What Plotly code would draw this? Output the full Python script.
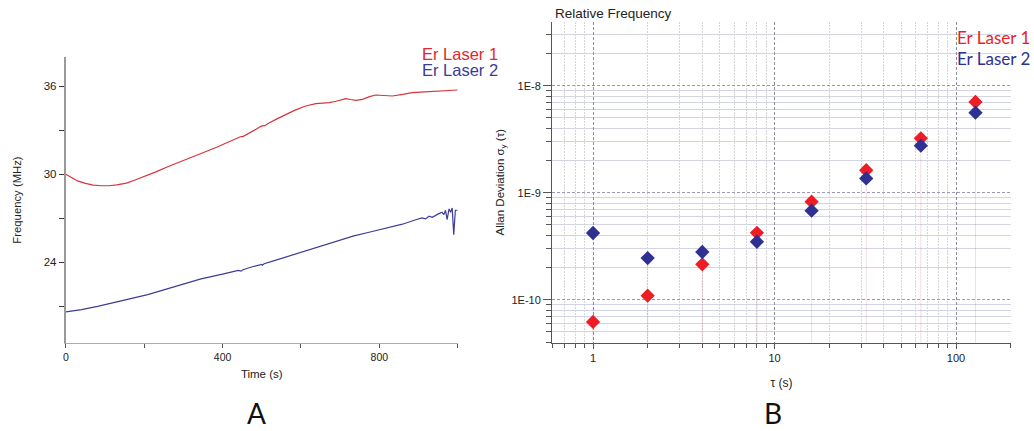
import plotly.graph_objects as go
import math

# ---------------- Panel A data ----------------
t_red = [0, 15, 30, 50, 70, 90, 110, 130, 155, 175, 200, 230, 260, 290, 320, 353, 385, 415,
         447, 452, 458, 476, 500, 508, 515, 540, 561, 585, 612, 625, 638, 655, 672, 690, 714,
         727, 740, 757, 775, 791, 810, 833, 860, 884, 905, 927, 960, 1000]
f_red = [30.0, 29.75, 29.55, 29.38, 29.27, 29.22, 29.22, 29.28, 29.4, 29.6, 29.85, 30.17, 30.52,
         30.84, 31.14, 31.48, 31.85, 32.2, 32.58, 32.57, 32.66, 32.98, 33.3, 33.32, 33.45, 33.8,
         34.09, 34.38, 34.66, 34.76, 34.82, 34.86, 34.89, 34.98, 35.16, 35.1, 35.05, 35.11,
         35.3, 35.41, 35.38, 35.34, 35.45, 35.57, 35.61, 35.64, 35.68, 35.75]

t_blue = [0, 40, 81, 120, 160, 209, 250, 300, 345, 400, 440, 447, 452, 476, 500, 502, 506, 530,
          560, 600, 646, 700, 735, 774, 800, 830, 859, 893, 900, 909, 918, 927, 935, 944, 952,
          960, 965, 969, 973, 978, 982, 986, 990, 994, 1000]
f_blue = [20.62, 20.78, 21.0, 21.25, 21.48, 21.8, 22.12, 22.5, 22.87, 23.2, 23.45, 23.4, 23.5,
          23.7, 23.86, 23.81, 23.9, 24.1, 24.35, 24.7, 25.08, 25.5, 25.8, 26.05, 26.23, 26.4,
          26.6, 26.9, 26.95, 27.03, 26.96, 27.14, 27.07, 27.23, 27.32, 27.41, 27.25, 27.55,
          26.91, 27.64, 27.41, 27.7, 25.89, 27.55, 27.55]

# ---------------- Panel B data ----------------
tau = [1, 2, 4, 8, 16, 32, 64, 128]
adev_laser1 = [6.2e-11, 1.09e-10, 2.14e-10, 4.22e-10, 8.24e-10, 1.62e-9, 3.22e-9, 7.05e-9]
adev_laser2 = [4.2e-10, 2.45e-10, 2.79e-10, 3.48e-10, 6.79e-10, 1.36e-9, 2.75e-9, 5.6e-9]

x_major = [1, 10, 100]
x_major_text = ["1", "10", "100"]
y_major = [1e-10, 1e-9, 1e-8]
y_major_text = ["1E-10", "1E-9", "1E-8"]

RED_A = "#d8343c"
BLUE_A = "#3d3d94"
RED_B = "#ee1c25"
BLUE_B = "#2e3192"

YB_RANGE = [-10.402, -7.402]
XB_RANGE = [math.log10(0.595), math.log10(201)]

fig = go.Figure()

fig.add_trace(go.Scatter(x=t_red, y=f_red, mode="lines", line=dict(color=RED_A, width=1.2),
                         name="Er Laser 1", xaxis="x", yaxis="y", showlegend=False))
fig.add_trace(go.Scatter(x=t_blue, y=f_blue, mode="lines", line=dict(color=BLUE_A, width=1.2),
                         name="Er Laser 2", xaxis="x", yaxis="y", showlegend=False))

# faint drop lines under Allan deviation points
ybot = 10 ** YB_RANGE[0]
for tv, v in zip(tau, adev_laser1):
    fig.add_trace(go.Scatter(x=[tv, tv], y=[v, ybot], mode="lines",
                             line=dict(color="rgba(238,28,37,0.08)", width=1),
                             xaxis="x2", yaxis="y2", showlegend=False, hoverinfo="skip"))
for tv, v in zip(tau, adev_laser2):
    fig.add_trace(go.Scatter(x=[tv, tv], y=[v, ybot], mode="lines",
                             line=dict(color="rgba(46,49,146,0.08)", width=1),
                             xaxis="x2", yaxis="y2", showlegend=False, hoverinfo="skip"))

fig.add_trace(go.Scatter(x=tau, y=adev_laser1, mode="markers",
                         marker=dict(symbol="diamond", size=11, color=RED_B),
                         name="Er Laser 1", xaxis="x2", yaxis="y2", showlegend=False))
fig.add_trace(go.Scatter(x=tau, y=adev_laser2, mode="markers",
                         marker=dict(symbol="diamond", size=11, color=BLUE_B),
                         name="Er Laser 2", xaxis="x2", yaxis="y2", showlegend=False))

FONT = "Liberation Sans, Arial, sans-serif"
MYRIAD = "Lato, Open Sans, sans-serif"

x_minor = [d * m for m in (0.1, 1, 10) for d in range(2, 10)] + [200]
x_minor = [v for v in x_minor if 0.59 < v < 202 and v not in x_major]
y_minor = [d * m for m in (1e-11, 1e-10, 1e-9, 1e-8) for d in range(2, 10)]
y_minor = [v for v in y_minor if 10 ** YB_RANGE[0] < v < 10 ** YB_RANGE[1]]

fig.update_layout(
    width=1034, height=431,
    margin=dict(l=0, r=0, t=0, b=0),
    paper_bgcolor="white", plot_bgcolor="rgba(0,0,0,0)",
    font=dict(family=FONT, size=11, color="#222"),
    xaxis=dict(domain=[63 / 1034, 456 / 1034], range=[0, 1000], anchor="y",
               showgrid=False, zeroline=False, showline=True, linecolor="#b8a8a8", linewidth=1,
               tickmode="linear", tick0=0, dtick=400, ticks="outside", ticklen=4,
               tickcolor="#555", tickfont=dict(size=10.5),
               minor=dict(ticks="outside", dtick=200, tick0=0, ticklen=4, tickcolor="#555"),
               title=dict(text="Time (s)", font=dict(size=11.5), standoff=8)),
    yaxis=dict(domain=[(431 - 343) / 431, (431 - 57) / 431], range=[18.5, 38], anchor="x",
               showgrid=False, zeroline=False, showline=True, linecolor="#999", linewidth=2,
               tickmode="linear", tick0=0, dtick=6, ticks="outside", ticklen=5,
               tickcolor="#333", tickfont=dict(size=11.5),
               minor=dict(ticks="outside", dtick=3, tick0=0, ticklen=5, tickcolor="#333"),
               title=dict(text="Frequency (MHz)", font=dict(size=11.3), standoff=20)),
    xaxis2=dict(domain=[550.7 / 1034, 1011 / 1034], type="log", range=XB_RANGE, anchor="y2",
                showline=True, linecolor="#555", linewidth=1.2, zeroline=False,
                tickmode="array", tickvals=x_major, ticktext=x_major_text,
                ticks="outside", ticklen=5, tickcolor="#555", tickfont=dict(size=11),
                showgrid=True, gridcolor="#8e8e9a", griddash="3px,2px", gridwidth=1,
                minor=dict(tickmode="array", tickvals=x_minor, ticks="outside", ticklen=4,
                           tickcolor="#555", showgrid=True, gridcolor="#d6d6d6",
                           griddash="2px,1px", gridwidth=1),
                title=dict(text="τ (s)", font=dict(size=12), standoff=15)),
    yaxis2=dict(domain=[(431 - 342.7) / 431, (431 - 21.7) / 431], type="log", range=YB_RANGE,
                anchor="x2", showline=True, linecolor="#555", linewidth=1.2, zeroline=False,
                tickmode="array", tickvals=y_major, ticktext=y_major_text,
                ticks="outside", ticklen=8, tickcolor="#555", tickfont=dict(size=11),
                showgrid=True, gridcolor="#9a9ab4", griddash="3px,2px", gridwidth=1,
                minor=dict(tickmode="array", tickvals=y_minor, ticks="outside", ticklen=5,
                           tickcolor="#555", showgrid=True, gridcolor="#d4d5e4",
                           griddash="solid", gridwidth=1.2),
                title=dict(text="Allan Deviation σ<sub>y</sub> (τ)", font=dict(size=11.5),
                           standoff=4)),
    annotations=[
        dict(text="Er Laser 1", x=498 / 1034, y=1 - 54 / 431, xref="paper", yref="paper",
             xanchor="right", yanchor="middle", showarrow=False,
             font=dict(family=FONT, size=16.5, color="#e5262e")),
        dict(text="Er Laser 2", x=498 / 1034, y=1 - 70 / 431, xref="paper", yref="paper",
             xanchor="right", yanchor="middle", showarrow=False,
             font=dict(family=FONT, size=16.5, color="#3b3b98")),
        dict(text="Er Laser 1", x=955 / 1034, y=1 - 37 / 431, xref="paper", yref="paper",
             xanchor="left", yanchor="middle", showarrow=False,
             font=dict(family=MYRIAD, size=17, color=RED_B)),
        dict(text="Er Laser 2", x=955 / 1034, y=1 - 58 / 431, xref="paper", yref="paper",
             xanchor="left", yanchor="middle", showarrow=False,
             font=dict(family=MYRIAD, size=17, color=BLUE_B)),
        dict(text="Relative Frequency", x=552 / 1034, y=1 - 13.5 / 431, xref="paper",
             yref="paper", xanchor="left", yanchor="middle", showarrow=False,
             font=dict(family=FONT, size=13.5, color="#222")),
        dict(text="A", x=254 / 1034, y=1 - 413 / 431, xref="paper", yref="paper",
             xanchor="center", yanchor="middle", showarrow=False,
             font=dict(family=MYRIAD, size=28, color="#111")),
        dict(text="B", x=772 / 1034, y=1 - 413 / 431, xref="paper", yref="paper",
             xanchor="center", yanchor="middle", showarrow=False,
             font=dict(family=MYRIAD, size=28, color="#111")),
    ],
)

fig.write_html("out.html")
